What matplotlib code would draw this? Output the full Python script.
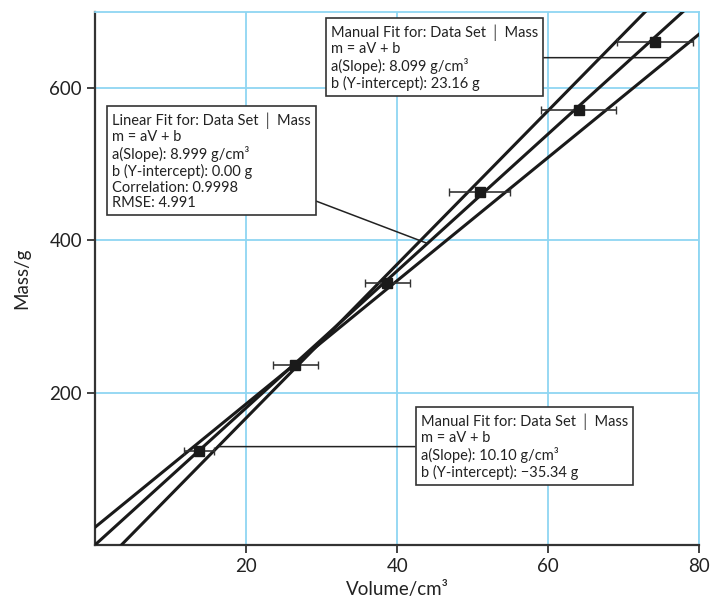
import matplotlib
matplotlib.use("Agg")
import matplotlib.pyplot as plt
import numpy as np

plt.rcParams['font.family'] = ['Lato', 'DejaVu Sans']

# data
volume = [13.7, 26.5, 38.7, 50.9, 64.0, 74.1]
mass = [123, 236, 344, 463, 571, 661]
volume_err = [2, 3, 3, 4, 5, 5]

# fits (slope, intercept)
linear_fit = (8.999, 0.0)
manual_fit_1 = (8.099, 23.16)
manual_fit_2 = (10.10, -35.34)

x_ticks = [20, 40, 60, 80]
y_ticks = [200, 400, 600]

grid_col = '#8fd6f2'

fig = plt.figure(figsize=(7.1, 6), dpi=100)
ax = fig.add_axes([0.134, 0.092, 0.851, 0.888])

xs = np.array([0, 80])
for a, b in (linear_fit, manual_fit_1, manual_fit_2):
    ax.plot(xs, a * xs + b, color='#1a1a1a', linewidth=2.2, zorder=3)

ax.errorbar(volume, mass, xerr=volume_err, fmt='s', color='#1a1a1a',
            markersize=7.5, ecolor='#333333', elinewidth=1.2, capsize=3,
            capthick=1.0, zorder=4)

ax.set_xlim(0, 80)
ax.set_ylim(0, 700)
ax.set_xticks(x_ticks)
ax.set_yticks(y_ticks)
ax.grid(True, color=grid_col, linewidth=1.3, zorder=0)
ax.set_axisbelow(True)

for side in ('top', 'right'):
    ax.spines[side].set_color(grid_col)
    ax.spines[side].set_linewidth(1.3)
for side in ('left', 'bottom'):
    ax.spines[side].set_color('#333333')
    ax.spines[side].set_linewidth(1.6)
ax.tick_params(direction='out', length=6, width=1.3, color='#333333',
               labelsize=13.5, labelcolor='#222222')

ax.set_xlabel('Volume/cm³', fontsize=13.5, color='#222222', labelpad=4)
ax.set_ylabel('Mass/g', fontsize=13.5, color='#222222', labelpad=14)

box = dict(boxstyle='square,pad=0.35', facecolor='white', edgecolor='#333333', linewidth=1.2)
arrow = dict(arrowstyle='-', color='#222222', linewidth=1.1, shrinkA=0, shrinkB=0)
txt = dict(ha='left', va='center', fontsize=10.5, linespacing=1.15, color='#222222')

# manual fit 1 (top)
y1 = 640
ax.annotate('Manual Fit for: Data Set │ Mass\nm = aV + b\n'
            'a(Slope): 8.099 g/cm³\nb (Y-intercept): 23.16 g',
            xy=((y1 - manual_fit_1[1]) / manual_fit_1[0], y1), xytext=(31.2, y1),
            bbox=box, arrowprops=arrow, zorder=5, **txt)

# linear fit
ax.annotate('Linear Fit for: Data Set │ Mass\nm = aV + b\n'
            'a(Slope): 8.999 g/cm³\nb (Y-intercept): 0.00 g\n'
            'Correlation: 0.9998\nRMSE: 4.991',
            xy=(44, 44 * linear_fit[0]), xytext=(2.2, 504),
            bbox=box, arrowprops=arrow, zorder=5, **txt)

# manual fit 2 (bottom)
y2 = 129
ax.annotate('Manual Fit for: Data Set │ Mass\nm = aV + b\n'
            'a(Slope): 10.10 g/cm³\nb (Y-intercept): −35.34 g',
            xy=((y2 - manual_fit_2[1]) / manual_fit_2[0], y2), xytext=(43.1, y2),
            bbox=box, arrowprops=arrow, zorder=5, **txt)

fig.savefig('out.png', dpi=100)
